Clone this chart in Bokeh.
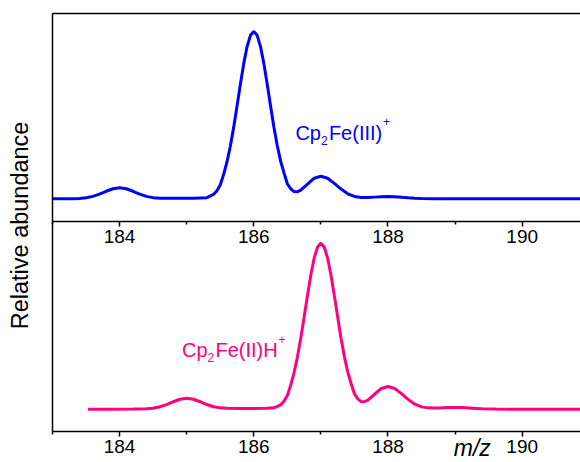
import math
from bokeh.plotting import figure
from bokeh.models import Range1d, LinearAxis, FixedTicker, Label
from bokeh.embed import file_html
from bokeh.resources import INLINE

# ---- data (relative abundance, %) ----
top_mz = [183.0, 183.3, 183.4, 183.5, 183.6, 183.7, 183.8, 183.9, 184.0, 184.1, 184.2, 184.3,
          184.4, 184.5, 184.6, 184.7, 184.9, 185.1, 185.3, 185.4, 185.45, 185.5, 185.55, 185.6,
          185.65, 185.7, 185.75, 185.8, 185.85, 185.9, 185.95, 186.0, 186.05, 186.1, 186.15,
          186.2, 186.25, 186.3, 186.35, 186.4, 186.45, 186.5, 186.55, 186.6, 186.65, 186.7,
          186.8, 186.9, 187.0, 187.1, 187.2, 187.3, 187.4, 187.5, 187.6, 187.7, 187.8, 187.9,
          188.0, 188.1, 188.2, 188.3, 188.4, 188.5, 188.7, 189.0, 189.5, 190.0, 190.5, 191.0]
top_abund = [0.0, 0.0, 0.2, 0.6, 1.45, 2.8, 4.5, 6.0, 6.6, 6.0, 4.5, 2.8,
             1.45, 0.7, 0.4, 0.3, 0.3, 0.35, 0.7, 2.6, 4.8, 8.3, 14.5, 22.0,
             31.4, 42.7, 55.4, 68.5, 80.8, 91.0, 97.7, 100.0, 97.7, 91.0, 80.8,
             68.5, 55.5, 42.8, 31.7, 22.5, 15.5, 9.0, 6.0, 4.3, 4.2, 5.2,
             8.8, 12.3, 13.5, 12.3, 9.25, 5.8, 3.0, 1.4, 0.76, 0.73, 1.0, 1.27,
             1.4, 1.27, 0.96, 0.6, 0.3, 0.13, 0.0, 0.0, 0.0, 0.0, 0.0, 0.0]

bottom_mz = [183.53, 183.8, 184.2, 184.4, 184.5, 184.6, 184.7, 184.8, 184.9, 185.0, 185.1, 185.2,
             185.3, 185.4, 185.5, 185.6, 185.8, 186.0, 186.2, 186.3, 186.4, 186.45, 186.5, 186.55,
             186.6, 186.65, 186.7, 186.75, 186.8, 186.85, 186.9, 186.95, 187.0, 187.05, 187.1,
             187.15, 187.2, 187.25, 187.3, 187.35, 187.4, 187.45, 187.5, 187.55, 187.6, 187.65,
             187.7, 187.8, 187.9, 188.0, 188.1, 188.2, 188.3, 188.4, 188.5, 188.6, 188.7, 188.8,
             188.9, 189.0, 189.1, 189.2, 189.3, 189.4, 189.6, 189.8, 190.3, 191.0]
bottom_abund = [0.0, 0.0, 0.05, 0.2, 0.6, 1.45, 2.8, 4.5, 6.0, 6.6, 6.0, 4.5,
                2.8, 1.5, 0.8, 0.5, 0.45, 0.45, 0.5, 0.8, 2.6, 4.8, 8.3, 14.5,
                22.0, 31.4, 42.7, 55.4, 68.5, 80.8, 91.0, 97.7, 100.0, 97.7, 91.0,
                80.8, 68.5, 55.5, 42.8, 31.7, 22.5, 15.5, 9.2, 6.2, 4.5, 4.5,
                5.5, 9.0, 12.5, 13.7, 12.5, 9.4, 5.9, 3.0, 1.4, 0.8, 0.7, 0.8,
                0.95, 1.0, 0.95, 0.7, 0.45, 0.2, 0.05, 0.0, 0.0, 0.0]

tick_values = [184, 186, 188, 190]
minor_tick_values = [183, 185, 187, 189]
top_label = ["Cp", "2", "Fe(III)", "+"]
bottom_label = ["Cp", "2", "Fe(II)H", "+"]
x_label = "m/z"
y_label = "Relative abundance"

BLUE = "#0000ff"
PINK = "#ff007f"
FONT = "Liberation Sans"

# axis positions (data units of the default y range / x range)
X_LEFT = 183.0
X_RIGHT = 191.0
Y_TOP_LINE = 238.2
Y_MIDDLE_AXIS = 113.25
Y_BOTTOM_AXIS = -13.25

# the plotting frame covers the whole page; every axis sits at a fixed data location
p = figure(width=580, height=462, output_backend="svg", toolbar_location=None,
           x_range=Range1d(182.225, 190.869), y_range=Range1d(-32.11, 246.2),
           min_border_left=0, min_border_right=0, min_border_top=0, min_border_bottom=0,
           x_axis_type=None, y_axis_type=None)
p.extra_y_ranges = {"top": Range1d(-157.62, 118.53)}
p.outline_line_color = None
p.xgrid.visible = False
p.ygrid.visible = False
p.background_fill_color = "white"
p.border_fill_color = "white"


def style_x_axis(ax):
    ax.ticker = FixedTicker(ticks=tick_values, minor_ticks=minor_tick_values)
    ax.bounds = (X_LEFT, X_RIGHT)
    ax.axis_line_width = 1.5
    ax.axis_line_color = "black"
    ax.major_tick_in = 0
    ax.major_tick_out = 5
    ax.minor_tick_in = 0
    ax.minor_tick_out = 3
    ax.major_tick_line_width = 1.5
    ax.minor_tick_line_width = 1.5
    ax.major_label_text_font = FONT
    ax.major_label_text_font_size = "19px"
    ax.major_label_text_color = "black"
    ax.major_label_standoff = 4


xb = LinearAxis(fixed_location=Y_BOTTOM_AXIS)
style_x_axis(xb)
p.add_layout(xb, "below")

xm = LinearAxis(fixed_location=Y_MIDDLE_AXIS)
style_x_axis(xm)
p.add_layout(xm, "below")

xt = LinearAxis(fixed_location=Y_TOP_LINE, bounds=(X_LEFT, X_RIGHT),
                ticker=FixedTicker(ticks=[]), major_tick_out=0, major_tick_in=0,
                axis_line_width=1.5, axis_line_color="black")
p.add_layout(xt, "above")

yl = LinearAxis(fixed_location=X_LEFT, bounds=(Y_BOTTOM_AXIS, Y_TOP_LINE),
                ticker=FixedTicker(ticks=[]), major_tick_out=0, major_tick_in=0,
                axis_line_width=1.5, axis_line_color="black")
p.add_layout(yl, "left")

p.line(top_mz, top_abund, y_range_name="top", line_color=BLUE, line_width=3)
p.line(bottom_mz, bottom_abund, line_color=PINK, line_width=3)


# formula labels: pieces with subscript / superscript
def formula(x, y, pieces, offs, dy, color, rng):
    for txt, xo, d, size in zip(pieces, offs, dy, ["20px", "12px", "20px", "12px"]):
        p.add_layout(Label(x=x, y=y + d, x_offset=xo, text=txt, text_font=FONT,
                           text_font_size=size, text_color=color,
                           text_align="left", text_baseline="alphabetic",
                           y_range_name=rng))


formula(186.62, 39.5, top_label, [0, 25.5, 33.5, 87.5], [0, -4.4, 0, 6.5], BLUE, "top")
formula(184.93, 35.5, bottom_label, [0, 25.5, 33.5, 96.5], [0, -4.4, 0, 6.5], PINK, "default")

# axis titles
p.add_layout(Label(x=188.98, y=-23.5, text=x_label, text_font=FONT, text_font_size="23px",
                   text_font_style="italic", text_color="black",
                   text_align="left", text_baseline="alphabetic"))
p.add_layout(Label(x=182.523, y=110.7, text=y_label, angle=math.pi / 2, text_font=FONT,
                   text_font_size="23.5px", text_color="black",
                   text_align="center", text_baseline="alphabetic"))

open("out.html", "w").write(file_html(p, INLINE))
